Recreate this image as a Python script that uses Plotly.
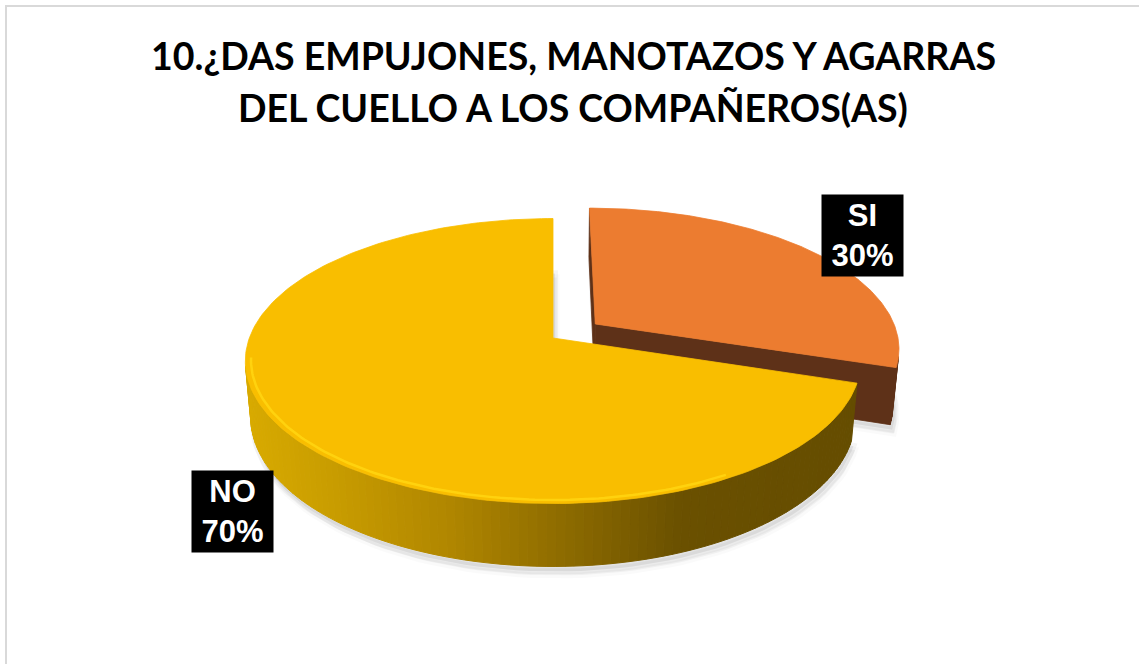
import numpy as np
import plotly.graph_objects as go

# ---- data ----
labels = ["SI", "NO"]
values = [30, 70]
pull = [0.175, 0.0]
top_colors = ["#EC7C30", "#F9BE00"]
side_colors = ["#5E3118", "#7A5C00"]
title_lines = ["10.¿DAS EMPUJONES, MANOTAZOS Y AGARRAS",
               "DEL CUELLO A LOS COMPAÑEROS(AS)"]
label_pos = {"SI": (862.5, 235.0), "NO": (232.5, 511.5)}

# ---- 3D projection setup (pixel-mapped axes) ----
W, H = 1139, 664
CX, CY = 553.0, 338.0
D0 = 5.5
F = 1670.0
PHI = np.radians(27.2)
DEPTH = 0.21
CAM = np.array([0.0, D0 * np.sin(PHI), -D0 * np.cos(PHI)])


def proj(X, Y, Z):
    X = np.asarray(X, float)
    Y = np.asarray(Y, float)
    Z = np.asarray(Z, float)
    yp = Y * np.cos(PHI) + Z * np.sin(PHI)
    w = D0 + Z * np.cos(PHI) - Y * np.sin(PHI)
    return CX + F * X / w, CY - F * yp / w


fig = go.Figure()


def poly(xs, ys, color, lw=0.8, line_color=None):
    xs = list(xs) + [xs[0]]
    ys = list(ys) + [ys[0]]
    fig.add_trace(go.Scatter(
        x=xs, y=ys, mode="lines", fill="toself", fillcolor=color,
        line=dict(color=line_color or color, width=lw),
        hoverinfo="skip", showlegend=False))


def lerp_color(x, xs, cs):
    x = min(max(x, xs[0]), xs[-1])
    for i in range(len(xs) - 1):
        if xs[i] <= x <= xs[i + 1]:
            t = (x - xs[i]) / (xs[i + 1] - xs[i])
            c = [round(cs[i][k] + t * (cs[i + 1][k] - cs[i][k])) for k in range(3)]
            return "rgb(%d,%d,%d)" % tuple(c)
    return "rgb(%d,%d,%d)" % cs[-1]


grad_x = [243, 330, 450, 560, 680, 900]
grad_c = [(0xD9, 0xAB, 0x00), (0xC9, 0x9D, 0x00), (0xB0, 0x86, 0x00),
          (0x8E, 0x6C, 0x00), (0x6A, 0x50, 0x00), (0x64, 0x4C, 0x00)]

total = float(sum(values))
slices = []
start = 0.0
for lab, v, p in zip(labels, values, pull):
    span = 360.0 * v / total
    a0, a1 = start, start + span
    mid = np.radians((a0 + a1) / 2)
    ox, oz = p * np.sin(mid), p * np.cos(mid)
    slices.append((lab, a0, a1, ox, oz))
    start = a1

# ---- shadow ----
for off, alpha in [(9, 0.04), (5, 0.07)]:
    for lab, a0, a1, ox, oz in slices:
        th = np.radians(np.linspace(a0, a1, 120))
        X = np.concatenate([[ox], ox + np.sin(th)])
        Z = np.concatenate([[oz], oz + np.cos(th)])
        sx, sy = proj(X, np.full_like(X, -DEPTH), Z)
        poly(sx + off * 0.4, sy + off, "rgba(0,0,0,%.2f)" % alpha, lw=6,
             line_color="rgba(0,0,0,%.2f)" % (alpha * 0.6))

# ---- slices (back to front) ----
for i, (lab, a0, a1, ox, oz) in enumerate(slices):
    # radial walls
    for a, sign in [(a0, -1), (a1, 1)]:
        r = np.radians(a)
        n = np.array([sign * np.cos(r), 0.0, -sign * np.sin(r)])
        P = np.array([ox + 0.5 * np.sin(r), -DEPTH / 2, oz + 0.5 * np.cos(r)])
        if np.dot(n, CAM - P) > 0.05:
            X = [ox, ox + np.sin(r), ox + np.sin(r), ox]
            Z = [oz, oz + np.cos(r), oz + np.cos(r), oz]
            Y = [0, 0, -DEPTH, -DEPTH]
            sx, sy = proj(X, Y, Z)
            poly(sx, sy, side_colors[i] if lab != "NO" else "#5A4400")
    # outer wall strips
    th = np.linspace(a0, a1, int((a1 - a0) / 1.5) + 2)
    for t0, t1 in zip(th[:-1], th[1:]):
        tm = np.radians((t0 + t1) / 2)
        n = np.array([np.sin(tm), 0.0, np.cos(tm)])
        P = np.array([ox + np.sin(tm), -DEPTH / 2, oz + np.cos(tm)])
        if np.dot(n, CAM - P) <= 0:
            continue
        r0, r1 = np.radians(t0), np.radians(t1)
        X = [ox + np.sin(r0), ox + np.sin(r1), ox + np.sin(r1), ox + np.sin(r0)]
        Z = [oz + np.cos(r0), oz + np.cos(r1), oz + np.cos(r1), oz + np.cos(r0)]
        Y = [0, 0, -DEPTH, -DEPTH]
        sx, sy = proj(X, Y, Z)
        if lab == "NO":
            col = lerp_color(float(np.mean(sx)), grad_x, grad_c)
        else:
            col = side_colors[i]
        poly(sx, sy, col, lw=1.0)
    # top face
    thf = np.radians(np.linspace(a0, a1, 200))
    X = np.concatenate([[ox], ox + np.sin(thf)])
    Z = np.concatenate([[oz], oz + np.cos(thf)])
    sx, sy = proj(X, np.zeros_like(X), Z)
    poly(sx, sy, top_colors[i], lw=0.8)
    # bevel highlight along front rim
    if lab == "NO":
        thh = np.radians(np.linspace(max(a0, 150), min(a1, 262), 120))
        rr = 0.982
        hx, hy = proj(ox + rr * np.sin(thh), np.zeros_like(thh), oz + rr * np.cos(thh))
        fig.add_trace(go.Scatter(x=hx, y=hy, mode="lines",
                                 line=dict(color="#FFD20E", width=2.5),
                                 hoverinfo="skip", showlegend=False))

# ---- data labels ----
for lab, v in zip(labels, values):
    x, y = label_pos[lab]
    fig.add_annotation(
        x=x, y=y, xref="x", yref="y", showarrow=False,
        text=f"{lab}<br>{v / total * 100:.0f}%",
        font=dict(family="Liberation Sans, Arial", size=31, color="white", weight="bold"),
        bgcolor="black", width=81, height=81, borderpad=0,
        align="center", valign="middle")

# ---- title ----
for k, line in enumerate(title_lines):
    fig.add_annotation(
        x=573, y=55 + 52 * k, xref="x", yref="y", showarrow=False,
        text=line, xanchor="center", yanchor="middle",
        font=dict(family="Lato", size=37.5, color="black", weight="bold"))

# ---- chart border ----
fig.add_shape(type="rect", xref="x", yref="y", x0=6, y0=6, x1=1160, y1=690,
              line=dict(color="#D9D9D9", width=2), fillcolor="rgba(0,0,0,0)", layer="below")

fig.update_layout(
    width=W, height=H,
    margin=dict(l=0, r=0, t=0, b=0),
    paper_bgcolor="white", plot_bgcolor="white",
    xaxis=dict(range=[0, W], visible=False, fixedrange=True),
    yaxis=dict(range=[H, 0], visible=False, fixedrange=True),
    showlegend=False,
    hovermode=False,
)

fig.write_html("out.html", config={"displayModeBar": False},
               post_script="document.body.style.margin='0';")
